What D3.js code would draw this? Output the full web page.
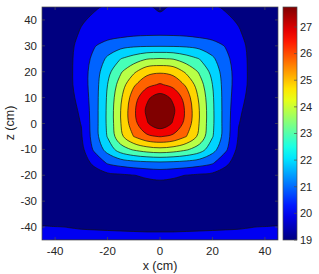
<!DOCTYPE html>
<meta charset="utf-8">
<script src="https://d3js.org/d3.v7.min.js"></script>
<style>
  body { margin: 0; background: #fff; }
  text { font-family: "Liberation Sans", Arial, sans-serif; fill: #262626; }
</style>
<div id="chart"></div>
<script>

// grid positions (cm)
const xValues = [-45, -40, -35, -30, -25, -20, -15, -10, -5, 0, 5, 10, 15, 20, 25, 30, 35, 40, 45];
const zValues = [45, 40, 35, 30, 25, 20, 15, 10, 5, 0, -5, -10, -15, -20, -25, -30, -35, -40, -45];

// temperature, one row per z (top to bottom)
const temperature = [
  [19.3,19.3,19.4,19.6,19.8,19.95,20.02,20.05,20.0,19.7,20.0,20.05,20.02,19.95,19.8,19.6,19.4,19.3,19.3],
  [19.3,19.35,19.5,19.8,20.0,20.15,20.25,20.3,20.25,20.15,20.25,20.3,20.25,20.15,20.0,19.8,19.5,19.35,19.3],
  [19.3,19.4,19.6,19.95,20.15,20.3,20.4,20.5,20.55,20.57,20.55,20.5,20.4,20.3,20.15,19.95,19.6,19.4,19.3],
  [19.3,19.4,19.6,20.2,20.7,21.1,21.35,21.5,21.54,21.55,21.54,21.5,21.35,21.1,20.7,20.2,19.6,19.4,19.3],
  [19.3,19.4,19.65,20.27,20.98,21.78,22.49,22.91,23.33,23.42,23.33,22.91,22.49,21.78,20.98,20.27,19.65,19.4,19.3],
  [19.3,19.4,19.65,20.31,21.16,22.22,23.27,24.1,24.85,25.0,24.85,24.1,23.27,22.22,21.16,20.31,19.65,19.4,19.3],
  [19.3,19.4,19.65,20.28,21.21,22.5,23.78,25.0,25.75,26.09,25.75,25.0,23.78,22.5,21.21,20.28,19.65,19.4,19.3],
  [19.3,19.4,19.6,20.15,21.22,22.62,24.1,25.59,26.73,27.25,26.73,25.59,24.1,22.62,21.22,20.15,19.6,19.4,19.3],
  [19.3,19.4,19.55,20.0,21.22,22.66,24.25,25.84,27.03,27.7,27.03,25.84,24.25,22.66,21.22,20.0,19.55,19.4,19.3],
  [19.3,19.4,19.5,19.9,21.22,22.66,24.22,25.7,26.79,27.44,26.79,25.7,24.22,22.66,21.22,19.9,19.5,19.4,19.3],
  [19.35,19.4,19.45,19.8,21.2,22.56,24.02,25.14,25.83,26.05,25.83,25.14,24.02,22.56,21.2,19.8,19.45,19.4,19.35],
  [19.35,19.4,19.4,19.6,20.93,21.96,22.96,23.5,23.85,24.0,23.85,23.5,22.96,21.96,20.93,19.6,19.4,19.4,19.35],
  [19.35,19.4,19.4,19.5,20.07,20.9,21.2,21.4,21.5,21.55,21.5,21.4,21.2,20.9,20.07,19.5,19.4,19.4,19.35],
  [19.35,19.4,19.4,19.4,19.5,19.65,19.75,19.86,20.0,20.1,20.0,19.86,19.75,19.65,19.5,19.4,19.4,19.4,19.35],
  [19.4,19.4,19.4,19.4,19.4,19.4,19.45,19.45,19.5,19.5,19.5,19.45,19.45,19.4,19.4,19.4,19.4,19.4,19.4],
  [19.4,19.4,19.4,19.4,19.4,19.4,19.4,19.4,19.4,19.4,19.4,19.4,19.4,19.4,19.4,19.4,19.4,19.4,19.4],
  [19.5,19.5,19.5,19.5,19.5,19.5,19.5,19.5,19.5,19.5,19.5,19.5,19.5,19.5,19.5,19.5,19.5,19.5,19.5],
  [19.9,19.89,19.87,19.85,19.84,19.83,19.82,19.81,19.8,19.8,19.8,19.81,19.82,19.83,19.84,19.85,19.87,19.89,19.9],
  [20.0,20.0,20.0,20.0,20.0,20.0,20.0,20.0,20.0,20.0,20.0,20.0,20.0,20.0,20.0,20.0,20.0,20.0,20.0]
];

// contour levels and colour range
const levels = [19.875, 20.75, 21.625, 22.5, 23.375, 24.25, 25.125, 26.0, 26.875];
const colorRange = [19, 27.75];

// ticks
const xTicks = [-40, -20, 0, 20, 40];
const zTicks = [-40, -30, -20, -10, 0, 10, 20, 30, 40];
const cbarTicks = [19, 20, 21, 22, 23, 24, 25, 26, 27];

const W = 319, H = 274;
const plot = {left: 42, top: 7, right: 278, bottom: 240};
const cbar = {left: 283, right: 297};

// MATLAB jet colormap
function jet(t) {
  const c = v => Math.max(0, Math.min(1, v)) * 255;
  return d3.rgb(c(1.5 - Math.abs(4 * t - 3)), c(1.5 - Math.abs(4 * t - 2)), c(1.5 - Math.abs(4 * t - 1))).formatHex();
}

const svg = d3.select("#chart").append("svg")
  .attr("width", W).attr("height", H);

const x = d3.scaleLinear().domain([-45, 45]).range([plot.left, plot.right]);
const z = d3.scaleLinear().domain([-45, 45]).range([plot.bottom, plot.top]);
const c = d3.scaleLinear().domain(colorRange).range([plot.bottom, plot.top]);

// grid coordinates from d3.contours -> pixels (clamped so border runs sit on the frame)
const n = xValues.length, m = zValues.length;
const gx = d3.scaleLinear().domain([0.5, n - 0.5]).range([x(xValues[0]), x(xValues[n - 1])]).clamp(true);
const gz = d3.scaleLinear().domain([0.5, m - 0.5]).range([z(zValues[0]), z(zValues[m - 1])]).clamp(true);

const contours = d3.contours()
  .size([n, m])
  .thresholds(levels)(temperature.flat());

const ringLine = d3.line()
  .curve(d3.curveCatmullRomClosed.alpha(0.5));

function contourPath(mp) {
  let d = "";
  mp.coordinates.forEach(poly => poly.forEach(ring => {
    const pts = [];
    ring.slice(0, -1).forEach(p => {
      const q = [gx(p[0]), gz(p[1])];
      const last = pts[pts.length - 1];
      if (!last || Math.abs(last[0] - q[0]) > 0.01 || Math.abs(last[1] - q[1]) > 0.01) pts.push(q);
    });
    if (pts.length > 2) d += ringLine(pts);
  }));
  return d;
}

svg.append("clipPath").attr("id", "plotclip")
  .append("rect")
    .attr("x", plot.left).attr("y", plot.top)
    .attr("width", plot.right - plot.left).attr("height", plot.bottom - plot.top);

const g = svg.append("g").attr("clip-path", "url(#plotclip)");

g.append("rect")
  .attr("x", plot.left).attr("y", plot.top)
  .attr("width", plot.right - plot.left).attr("height", plot.bottom - plot.top)
  .attr("fill", jet(0));

g.selectAll("path.band")
  .data(contours)
  .join("path")
    .attr("class", "band")
    .attr("d", contourPath)
    .attr("fill", (d, i) => jet((i + 1) / levels.length))
    .attr("fill-rule", "evenodd")
    .attr("stroke", "#111")
    .attr("stroke-width", 0.7);

// axes box
svg.append("rect")
  .attr("x", plot.left).attr("y", plot.top)
  .attr("width", plot.right - plot.left).attr("height", plot.bottom - plot.top)
  .attr("fill", "none").attr("stroke", "#4d4d4d").attr("stroke-width", 0.7);

const tickLen = 3;
const ticks = svg.append("g").attr("stroke", "#4d4d4d").attr("stroke-width", 0.7);
xTicks.forEach(v => {
  ticks.append("line").attr("x1", x(v)).attr("x2", x(v)).attr("y1", plot.bottom).attr("y2", plot.bottom - tickLen);
  ticks.append("line").attr("x1", x(v)).attr("x2", x(v)).attr("y1", plot.top).attr("y2", plot.top + tickLen);
});
zTicks.forEach(v => {
  ticks.append("line").attr("x1", plot.left).attr("x2", plot.left + tickLen).attr("y1", z(v)).attr("y2", z(v));
  ticks.append("line").attr("x1", plot.right).attr("x2", plot.right - tickLen).attr("y1", z(v)).attr("y2", z(v));
});

svg.append("g").selectAll("text")
  .data(xTicks)
  .join("text")
    .attr("x", d => x(d)).attr("y", 255)
    .attr("text-anchor", "middle")
    .style("font-size", "11.5px")
    .text(d => d);

svg.append("g").selectAll("text")
  .data(zTicks)
  .join("text")
    .attr("x", 37).attr("y", d => z(d)).attr("dy", "0.35em")
    .attr("text-anchor", "end")
    .style("font-size", "11.5px")
    .text(d => d);

svg.append("text")
  .attr("x", 160).attr("y", 270)
  .attr("text-anchor", "middle")
  .style("font-size", "12.5px")
  .text("x (cm)");

svg.append("text")
  .attr("transform", "translate(14,123) rotate(-90)")
  .attr("text-anchor", "middle")
  .style("font-size", "12.5px")
  .text("z (cm)");

// colorbar
const grad = svg.append("defs").append("linearGradient")
  .attr("id", "jetgrad")
  .attr("x1", 0).attr("y1", 1).attr("x2", 0).attr("y2", 0);
d3.range(0, 1.0001, 0.05).forEach(t => {
  grad.append("stop").attr("offset", t).attr("stop-color", jet(t));
});

svg.append("rect")
  .attr("x", cbar.left).attr("y", plot.top)
  .attr("width", cbar.right - cbar.left).attr("height", plot.bottom - plot.top)
  .attr("fill", "url(#jetgrad)")
  .attr("stroke", "#4d4d4d").attr("stroke-width", 0.7);

cbarTicks.forEach(v => {
  svg.append("line")
    .attr("x1", cbar.right).attr("x2", cbar.right - tickLen)
    .attr("y1", c(v)).attr("y2", c(v))
    .attr("stroke", "#4d4d4d").attr("stroke-width", 0.7);
});

svg.append("g").selectAll("text")
  .data(cbarTicks)
  .join("text")
    .attr("x", 300).attr("y", d => c(d)).attr("dy", "0.35em")
    .style("font-size", "11px")
    .text(d => d);

</script>
